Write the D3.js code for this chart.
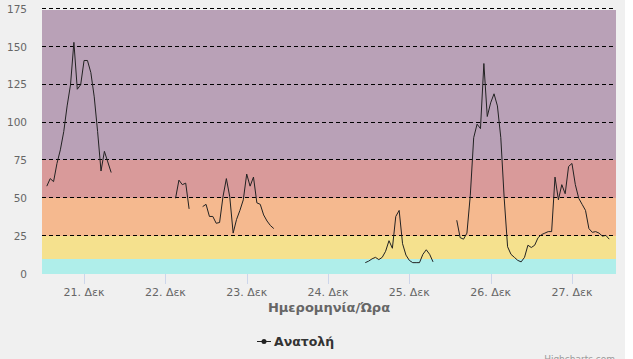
<!DOCTYPE html>
<html>
<head>
<meta charset="utf-8">
<script src="https://cdn.jsdelivr.net/npm/d3@7"></script>
<style>
  html, body { margin: 0; padding: 0; background: #ffffff; }
  svg { display: block; }
</style>
</head>
<body>
<svg id="chart" width="633" height="359"></svg>
<script>
// ---- Data (hourly readings, segments separated by gaps) ----
const seg1Start = "2020-12-20T13:00";
const seg1Values = [58,63,61,73,82,94,111,125,153,122,125,141,141,133,117,94,68,81,74,67];
const seg2Start = "2020-12-22T03:00";
const seg2Values = [50,62,59,60,43];
const seg3Start = "2020-12-22T11:00";
const seg3Values = [44.5,46,38,38,33.5,34,51,63,51,27,36,42,49,66,58,64,47,46,39,35,32,30];
const seg4Start = "2020-12-24T11:00";
const seg4Values = [7.5,8.5,10,11,9.5,11,15,22,17,38,42,20,12.5,9,7.5,7.5,7.5,13,16,13,8];
const seg5Start = "2020-12-25T14:00";
const seg5Values = [35.5,24,23,27,52,90,99,96,139,104,113,119,111,90,50,18,13,11,9,8,11,19,17.5,19,24,26,27,28,28,64,49,59,53,71,73,59,50,46,42,30,27.5,28,27,25,25.5,23];

const xDomainStart = "2020-12-20T11:35";
const xDomainEnd = "2020-12-27T13:00";
const xTickDates = ["2020-12-21T00:00","2020-12-22T00:00","2020-12-23T00:00","2020-12-24T00:00","2020-12-25T00:00","2020-12-26T00:00","2020-12-27T00:00"];
const xTickLabels = ["21. Δεκ","22. Δεκ","23. Δεκ","24. Δεκ","25. Δεκ","26. Δεκ","27. Δεκ"];
const yTicks = [0,25,50,75,100,125,150,175];

const bandFrom = [0,10,25,50,75];
const bandTo = [10,25,50,75,175];
const bandColors = ["#afeeea","#f5e18e","#f5b98f","#d99a9a","#b9a1b7"];

const seriesName = "Ανατολή";
const xAxisTitle = "Ημερομηνία/Ώρα";

// ---- Build ----
const parse = s => new Date(s);
function buildSegment(start, values) {
  const t0 = parse(start).getTime();
  return values.map((v, i) => ({ t: new Date(t0 + i * 3600 * 1000), v }));
}
const segments = [
  buildSegment(seg1Start, seg1Values),
  buildSegment(seg2Start, seg2Values),
  buildSegment(seg3Start, seg3Values),
  buildSegment(seg4Start, seg4Values),
  buildSegment(seg5Start, seg5Values)
];

const svg = d3.select("#chart");
const pLeft = 42, pRight = 616, pTop = 9, pBottom = 274;

svg.append("rect").attr("x", 0).attr("y", 0).attr("width", 625).attr("height", 359).attr("fill", "#f0f0f0");

const x = d3.scaleTime().domain([parse(xDomainStart), parse(xDomainEnd)]).range([pLeft, pRight]);
const y = d3.scaleLinear().domain([0, 175]).range([pBottom, pTop]);

// bands
svg.append("g").selectAll("rect").data(bandFrom).join("rect")
  .attr("x", pLeft)
  .attr("width", pRight - pLeft)
  .attr("y", (d, i) => Math.round(y(bandTo[i])) + (i === 4 ? 1 : 0))
  .attr("height", (d, i) => Math.round(y(d)) - Math.round(y(bandTo[i])) - (i === 4 ? 1 : 0))
  .attr("fill", (d, i) => bandColors[i]);

// grid lines
svg.append("g").selectAll("line").data(yTicks.filter(d => d > 0)).join("line")
  .attr("x1", pLeft).attr("x2", pRight - 2)
  .attr("y1", d => Math.round(y(d)) - 0.5).attr("y2", d => Math.round(y(d)) - 0.5)
  .attr("stroke", "#000").attr("stroke-width", 1).attr("stroke-dasharray", "4,3");

// y labels
svg.append("g").selectAll("text").data(yTicks).join("text")
  .attr("x", 27).attr("y", d => y(d))
  .attr("dy", "0.35em")
  .attr("text-anchor", "end")
  .attr("font-family", "DejaVu Sans, Verdana, sans-serif")
  .attr("font-size", "10.5px")
  .attr("fill", "#666")
  .text(d => d);

// x ticks
const xTicks = xTickDates.map(parse);
svg.append("g").selectAll("line").data(xTicks).join("line")
  .attr("x1", d => Math.round(x(d)) + 0.5).attr("x2", d => Math.round(x(d)) + 0.5)
  .attr("y1", pBottom).attr("y2", pBottom + 10)
  .attr("stroke", "#ccd6eb").attr("stroke-width", 1);

svg.append("g").selectAll("text").data(xTicks).join("text")
  .attr("x", d => x(d)).attr("y", 296)
  .attr("text-anchor", "middle")
  .attr("font-family", "DejaVu Sans, Verdana, sans-serif")
  .attr("font-size", "11px")
  .attr("fill", "#666")
  .text((d, i) => xTickLabels[i]);

// axis title
svg.append("text")
  .attr("x", (pLeft + pRight) / 2).attr("y", 312)
  .attr("text-anchor", "middle")
  .attr("font-family", "DejaVu Sans, Verdana, sans-serif")
  .attr("font-size", "13px").attr("font-weight", "bold")
  .attr("fill", "#666")
  .text(xAxisTitle);

// line
const line = d3.line().x(d => x(d.t)).y(d => y(d.v)).defined(d => d.v != null);
svg.append("g").selectAll("path").data(segments).join("path")
  .attr("d", line)
  .attr("fill", "none")
  .attr("stroke", "#222")
  .attr("stroke-width", 1)
  .attr("stroke-linejoin", "round");

// legend
const lg = svg.append("g");
lg.append("line").attr("x1", 257).attr("x2", 271).attr("y1", 341.5).attr("y2", 341.5)
  .attr("stroke", "#222").attr("stroke-width", 1);
lg.append("circle").attr("cx", 264).attr("cy", 341.5).attr("r", 2.5).attr("fill", "#222");
lg.append("text").attr("x", 274).attr("y", 346)
  .attr("font-family", "DejaVu Sans, Verdana, sans-serif")
  .attr("font-size", "12.5px").attr("font-weight", "bold")
  .attr("fill", "#333")
  .text(seriesName);

// credits (partly cut by the bottom edge, as in the reference)
svg.append("text").attr("x", 615).attr("y", 362)
  .attr("text-anchor", "end")
  .attr("font-family", "DejaVu Sans, Verdana, sans-serif")
  .attr("font-size", "9px").attr("fill", "#999")
  .text("Highcharts.com");
</script>
</body>
</html>
